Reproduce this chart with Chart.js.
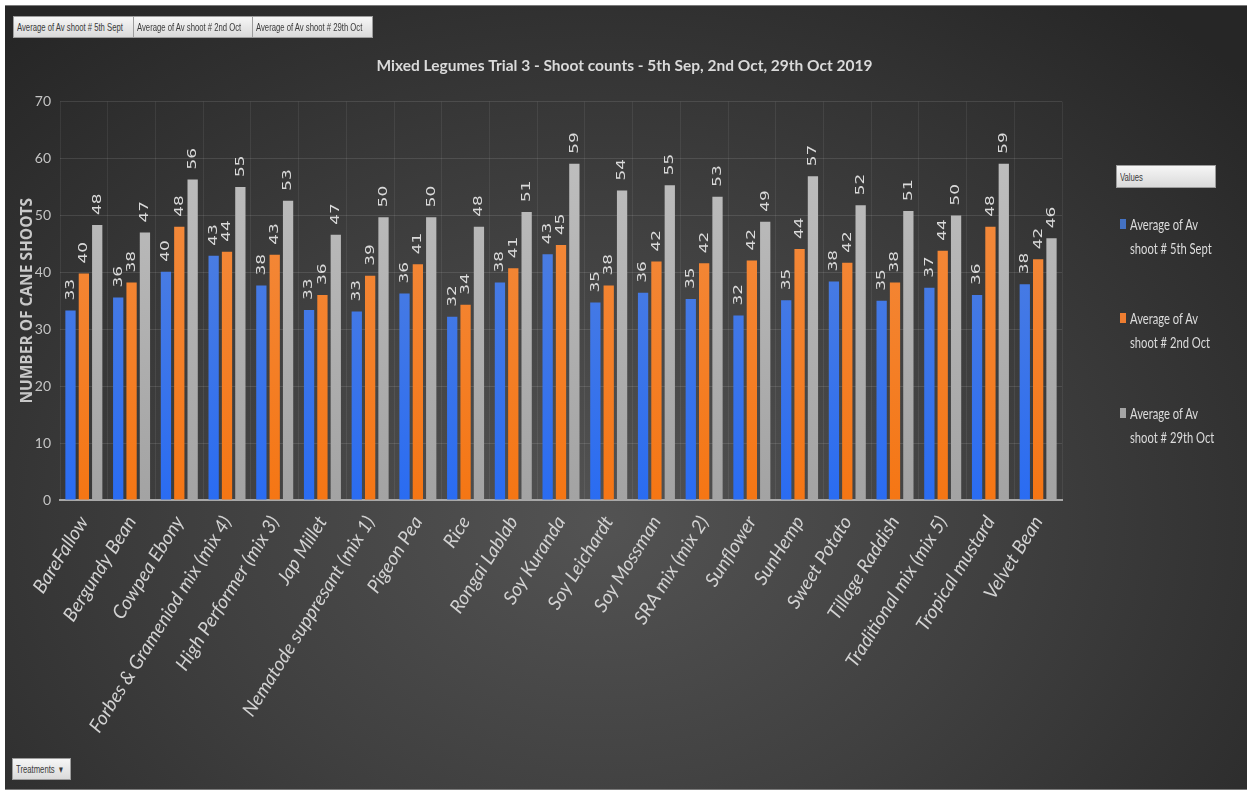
<!DOCTYPE html>
<html>
<head>
<meta charset="utf-8">
<title>Mixed Legumes Trial 3 - Shoot counts</title>
<script src="https://cdn.jsdelivr.net/npm/chart.js@4.4.0/dist/chart.umd.min.js"></script>
<style>
    html, body { margin: 0; padding: 0; background: #fff; }
    body { width: 1249px; height: 792px; position: relative; overflow: hidden; font-family: Lato, "Open Sans", sans-serif; }
    #panel {
        position: absolute; left: 5px; top: 5px; width: 1242px; height: 783px;
        border-top: 1px solid #7a7a7a; border-bottom: 1px solid #7a7a7a;
        background: radial-gradient(ellipse 70% 85% at 48% 66%, #535353 0%, #404040 45%, #262626 100%);
    }
    #chartBox { position: absolute; left: 0; top: 0; width: 1249px; height: 792px; }
    .fieldBtn {
        position: absolute; height: 22px; box-sizing: border-box;
        border: 1px solid #9c9c9c; background: linear-gradient(#f6f6f6, #dadada);
        color: #3a3a3a; font: 11px "Liberation Sans", Arial, sans-serif; line-height: 20px;
        padding-left: 3px; overflow: hidden; white-space: nowrap;
    }
    .squeeze { display: inline-block; transform: scaleX(0.7); transform-origin: 0 50%; white-space: nowrap; }
    #legend { position: absolute; left: 1116px; top: 165px; width: 110px; }
    #legend .fieldBtn { position: relative; width: 100px; height: 23px; line-height: 22px; }
    .legendItem { position: absolute; left: 4px; color: #dcdcdc; font-size: 16px; line-height: 24px; }
    .legendItem i { position: absolute; left: 0; top: 7px; width: 6px; height: 10px; }
    .legendItem span { position: absolute; left: 10px; top: 0; }
</style>
</head>
<body>
<div id="panel"></div>
<div id="chartBox"><canvas id="shootChart"></canvas></div>

<div class="fieldBtn" style="left:13px;top:16px;width:121px;"><span class="squeeze">Average of Av shoot # 5th Sept</span></div>
<div class="fieldBtn" style="left:133px;top:16px;width:120px;"><span class="squeeze">Average of Av shoot # 2nd Oct</span></div>
<div class="fieldBtn" style="left:252px;top:16px;width:121px;"><span class="squeeze">Average of Av shoot # 29th Oct</span></div>
<div class="fieldBtn" style="left:12px;top:758px;width:59px;"><span class="squeeze">Treatments &nbsp;&#9662;</span></div>

<div id="legend">
    <div class="fieldBtn"><span class="squeeze">Values</span></div>
</div>

<script>
const treatments = [
    'BareFallow', 'Bergundy Bean', 'Cowpea Ebony', 'Forbes & Grameniod mix (mix 4)',
    'High Performer (mix 3)', 'Jap Millet', 'Nematode suppresant (mix 1)', 'Pigeon Pea',
    'Rice', 'Rongai Lablab', 'Soy Kuranda', 'Soy Leichardt', 'Soy Mossman',
    'SRA mix (mix 2)', 'Sunflower', 'SunHemp', 'Sweet Potato', 'Tillage Raddish',
    'Traditional mix (mix 5)', 'Tropical mustard', 'Velvet Bean'
];

const seriesNames = [
    'Average of Av shoot # 5th Sept',
    'Average of Av shoot # 2nd Oct',
    'Average of Av shoot # 29th Oct'
];

const shoots5Sep = [33.3, 35.6, 40.1, 42.9, 37.7, 33.4, 33.1, 36.3, 32.2, 38.2, 43.2,
    34.7, 36.4, 35.3, 32.4, 35.1, 38.4, 35.0, 37.3, 36.0, 37.9];
const shoots2Oct = [39.8, 38.2, 48.0, 43.6, 43.1, 36.0, 39.4, 41.4, 34.3, 40.7, 44.8,
    37.7, 41.9, 41.6, 42.1, 44.1, 41.7, 38.2, 43.8, 48.0, 42.3];
const shoots29Oct = [48.3, 47.0, 56.3, 55.0, 52.6, 46.6, 49.7, 49.7, 48.0, 50.6, 59.1,
    54.4, 55.3, 53.3, 48.9, 56.9, 51.8, 50.8, 50.0, 59.1, 46.0];

const yTicks = [0, 10, 20, 30, 40, 50, 60, 70];

// top and bottom shade of each series, plus the flat legend swatch
const seriesColors = [
    { top: '#5d86d8', bottom: '#2a6cf2', swatch: '#4472c4' },
    { top: '#f2904a', bottom: '#f57614', swatch: '#ed7d31' },
    { top: '#c2c2c2', bottom: '#a3a3a3', swatch: '#a5a5a5' }
];

function barGradient(i) {
    return (context) => {
        const area = context.chart.chartArea;
        if (!area) return seriesColors[i].swatch;
        const g = context.chart.ctx.createLinearGradient(0, area.bottom, 0, area.top);
        g.addColorStop(0, seriesColors[i].bottom);
        g.addColorStop(1, seriesColors[i].top);
        return g;
    };
}

// rounded value written upright above every bar
const barValueLabels = {
    id: 'barValueLabels',
    afterDatasetsDraw(chart) {
        const ctx = chart.ctx;
        ctx.save();
        ctx.fillStyle = '#dadada';
        ctx.font = '13px "DejaVu Sans", sans-serif';
        ctx.textAlign = 'left';
        ctx.textBaseline = 'middle';
        chart.data.datasets.forEach((ds, i) => {
            chart.getDatasetMeta(i).data.forEach((bar, j) => {
                ctx.save();
                ctx.translate(bar.x, bar.y - 10);
                ctx.rotate(-Math.PI / 2);
                ctx.scale(1.3, 1);
                ctx.fillText(String(Math.round(ds.data[j])), 0, 0);
                ctx.restore();
            });
        });
        ctx.restore();
    }
};

const allSeries = [shoots5Sep, shoots2Oct, shoots29Oct];

new Chart(document.getElementById('shootChart'), {
    type: 'bar',
    data: {
        labels: treatments,
        datasets: allSeries.map((values, i) => ({
            label: seriesNames[i],
            data: values,
            backgroundColor: barGradient(i),
            borderWidth: 0,
            categoryPercentage: 0.84,
            barPercentage: 0.77
        }))
    },
    options: {
        responsive: true,
        maintainAspectRatio: false,
        animation: false,
        layout: { padding: 0 },
        plugins: {
            legend: { display: false },
            tooltip: { enabled: false },
            title: {
                display: true,
                text: 'Mixed Legumes Trial 3 - Shoot counts - 5th Sep, 2nd Oct, 29th Oct 2019',
                color: '#dadada',
                font: { family: 'Lato', size: 15.5, weight: 'bold' },
                padding: { top: 57, bottom: 26 }
            }
        },
        scales: {
            x: {
                grid: { color: 'rgba(255,255,255,0.07)', drawTicks: false },
                border: { color: '#a8a8a8', width: 2 },
                ticks: {
                    color: '#d2d2d2',
                    font: { family: 'Lato', size: 19, style: 'italic' },
                    minRotation: 58,
                    maxRotation: 58,
                    autoSkip: false,
                    padding: 12
                },
                afterFit(scale) { scale.height = 292; }
            },
            y: {
                min: 0,
                max: 70,
                grid: { color: 'rgba(255,255,255,0.11)', drawTicks: false },
                border: { display: false },
                afterBuildTicks(scale) { scale.ticks = yTicks.map(v => ({ value: v })); },
                ticks: {
                    color: '#c4c4c4',
                    font: { family: 'Lato', size: 14 },
                    padding: 9
                },
                title: {
                    display: true,
                    text: 'NUMBER OF CANE SHOOTS',
                    color: '#c8c8c8',
                    font: { family: 'Open Sans', size: 15.5, weight: 'bold' },
                    padding: { top: 18, bottom: 0 }
                },
                afterFit(scale) { scale.width = 60; }
            },
            // keeps the right-hand strip free for the HTML legend
            legendSpace: {
                type: 'linear',
                position: 'right',
                grid: { display: false },
                border: { display: false },
                ticks: { display: false },
                afterFit(scale) { scale.width = 187; }
            }
        }
    },
    plugins: [barValueLabels]
});

// legend entries, two lines each like the pivot chart field list
const legendBox = document.getElementById('legend');
const legendTops = [47, 141, 236];
seriesNames.forEach((name, i) => {
    const words = name.split(' ');
    const item = document.createElement('div');
    item.className = 'legendItem';
    item.style.top = legendTops[i] + 'px';
    item.innerHTML = '<i style="background:' + seriesColors[i].swatch + '"></i>' +
        '<span class="squeeze">' + words.slice(0, 3).join(' ') + '<br>' + words.slice(3).join(' ') + '</span>';
    legendBox.appendChild(item);
});
</script>
</body>
</html>
